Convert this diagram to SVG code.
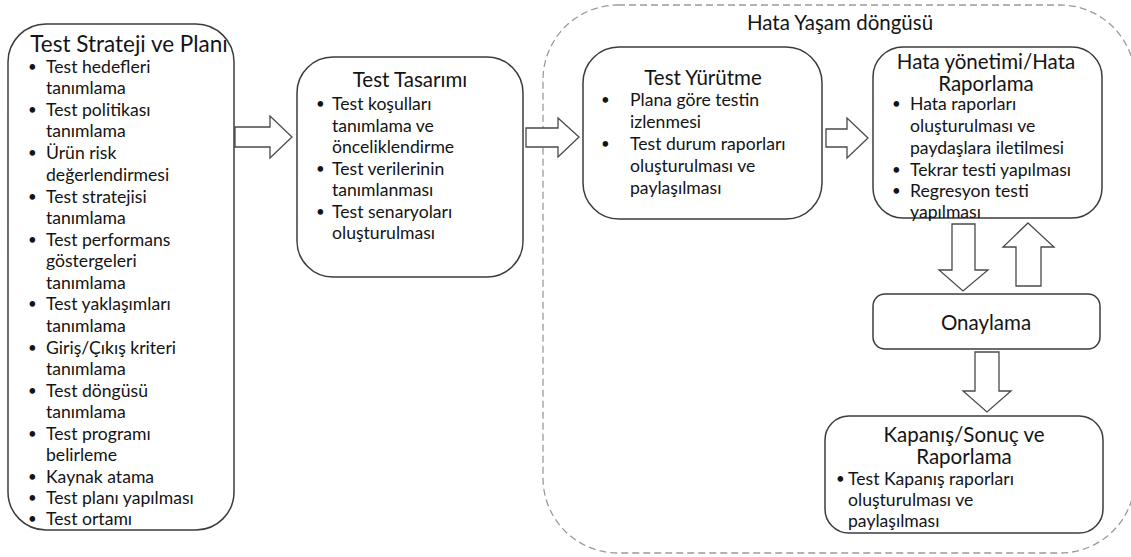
<svg xmlns="http://www.w3.org/2000/svg" width="1131" height="557" viewBox="0 0 1131 557">
  <style>
    .box { fill: #ffffff; stroke: #3c3c3c; stroke-width: 1.5; }
    .frame { fill: none; stroke: #9a9a9a; stroke-width: 1.3; stroke-dasharray: 7 4; }
    .arrow { fill: #ffffff; stroke: #4a4a4a; stroke-width: 1.3; stroke-linejoin: miter; }
    text { font-family: Lato, "Liberation Sans", sans-serif; fill: #141414; dominant-baseline: central; }
    .title { font-size: 20.5px; text-anchor: middle; }
    .big { font-size: 22.5px; }
    .item { font-size: 17.6px; }
    .dot { font-size: 15px; }
  </style>
  <rect width="1131" height="557" fill="#ffffff"/>

  <!-- defect life cycle frame -->
  <g id="lifecycle">
    <rect class="frame" x="543" y="5" width="592" height="548" rx="75" ry="75"/>
    <text class="title" x="840" y="22">Hata Yaşam döngüsü</text>
  </g>

  <!-- connectors -->
  <g id="connectors">
    <polygon class="arrow" points="235,127 270,127 270,116 292,137 270,158 270,147 235,147"/>
    <polygon class="arrow" points="526,128 558,128 558,118 579,137 558,157 558,147 526,147"/>
    <polygon class="arrow" points="826,129 847,129 847,118 868,138 847,158 847,147 826,147"/>
    <polygon class="arrow" points="952,224 975,224 975,270 988,270 963,291 939,270 952,270"/>
    <polygon class="arrow" points="1028,223 1054,247 1041,247 1041,286 1016,286 1016,247 1003,247"/>
    <polygon class="arrow" points="975,352 999,352 999,391 1011,391 987,412 963,391 975,391"/>
  </g>

  <!-- strategy and plan -->
  <g id="strateji">
    <rect class="box" x="8" y="24" width="226" height="506" rx="38" ry="38"/>
    <text class="title big" x="129" y="43">Test Strateji ve Planı</text>
    <g class="dot">
      <text x="28" y="66">•</text><text x="28" y="109">•</text><text x="28" y="152">•</text>
      <text x="28" y="196">•</text><text x="28" y="239">•</text><text x="28" y="303">•</text>
      <text x="28" y="347">•</text><text x="28" y="390">•</text><text x="28" y="433">•</text>
      <text x="28" y="476">•</text><text x="28" y="497">•</text><text x="28" y="518">•</text>
    </g>
    <g class="item">
      <text x="46" y="66">Test hedefleri</text>
      <text x="46" y="87">tanımlama</text>
      <text x="46" y="109">Test politikası</text>
      <text x="46" y="130">tanımlama</text>
      <text x="46" y="152">Ürün risk</text>
      <text x="46" y="174">değerlendirmesi</text>
      <text x="46" y="196">Test stratejisi</text>
      <text x="46" y="217">tanımlama</text>
      <text x="46" y="239">Test performans</text>
      <text x="46" y="260">göstergeleri</text>
      <text x="46" y="282">tanımlama</text>
      <text x="46" y="303">Test yaklaşımları</text>
      <text x="46" y="325">tanımlama</text>
      <text x="46" y="347">Giriş/Çıkış kriteri</text>
      <text x="46" y="368">tanımlama</text>
      <text x="46" y="390">Test döngüsü</text>
      <text x="46" y="411">tanımlama</text>
      <text x="46" y="433">Test programı</text>
      <text x="46" y="454">belirleme</text>
      <text x="46" y="476">Kaynak atama</text>
      <text x="46" y="497">Test planı yapılması</text>
      <text x="46" y="518">Test ortamı</text>
    </g>
  </g>

  <!-- test design -->
  <g id="tasarim">
    <rect class="box" x="297" y="57" width="226" height="220" rx="36" ry="36"/>
    <text class="title" x="410" y="79">Test Tasarımı</text>
    <g class="dot">
      <text x="316" y="103">•</text><text x="316" y="168">•</text><text x="316" y="211">•</text>
    </g>
    <g class="item">
      <text x="332" y="103">Test koşulları</text>
      <text x="332" y="125">tanımlama ve</text>
      <text x="332" y="146">önceliklendirme</text>
      <text x="332" y="168">Test verilerinin</text>
      <text x="332" y="189">tanımlanması</text>
      <text x="332" y="211">Test senaryoları</text>
      <text x="332" y="232">oluşturulması</text>
    </g>
  </g>

  <!-- test execution -->
  <g id="yurutme">
    <rect class="box" x="583" y="47" width="239" height="172" rx="36" ry="36"/>
    <text class="title" x="703" y="77">Test Yürütme</text>
    <g class="dot">
      <text x="601" y="99">•</text><text x="601" y="143">•</text>
    </g>
    <g class="item">
      <text x="630" y="99">Plana göre testin</text>
      <text x="630" y="121">izlenmesi</text>
      <text x="630" y="143">Test durum raporları</text>
      <text x="630" y="165">oluşturulması ve</text>
      <text x="630" y="187">paylaşılması</text>
    </g>
  </g>

  <!-- defect management -->
  <g id="hata-yonetimi">
    <rect class="box" x="873" y="47" width="229" height="171" rx="30" ry="30"/>
    <text class="title" x="986" y="61">Hata yönetimi/Hata</text>
    <text class="title" x="986" y="83">Raporlama</text>
    <g class="dot">
      <text x="892" y="103">•</text><text x="892" y="169">•</text><text x="892" y="190">•</text>
    </g>
    <g class="item">
      <text x="910" y="103">Hata raporları</text>
      <text x="910" y="125">oluşturulması ve</text>
      <text x="910" y="147">paydaşlara iletilmesi</text>
      <text x="910" y="169">Tekrar testi yapılması</text>
      <text x="910" y="190">Regresyon testi</text>
      <text x="910" y="211">yapılması</text>
    </g>
  </g>

  <!-- confirmation -->
  <g id="onaylama">
    <rect class="box" x="873" y="294" width="227" height="55" rx="12" ry="12"/>
    <text class="title" x="986" y="322">Onaylama</text>
  </g>

  <!-- closure and reporting -->
  <g id="kapanis">
    <rect class="box" x="825" y="416" width="278" height="117" rx="24" ry="24"/>
    <text class="title" x="964" y="434">Kapanış/Sonuç ve</text>
    <text class="title" x="964" y="456">Raporlama</text>
    <text class="dot" x="836" y="478">•</text>
    <g class="item">
      <text x="848" y="478">Test Kapanış raporları</text>
      <text x="848" y="499">oluşturulması ve</text>
      <text x="848" y="520">paylaşılması</text>
    </g>
  </g>
</svg>
